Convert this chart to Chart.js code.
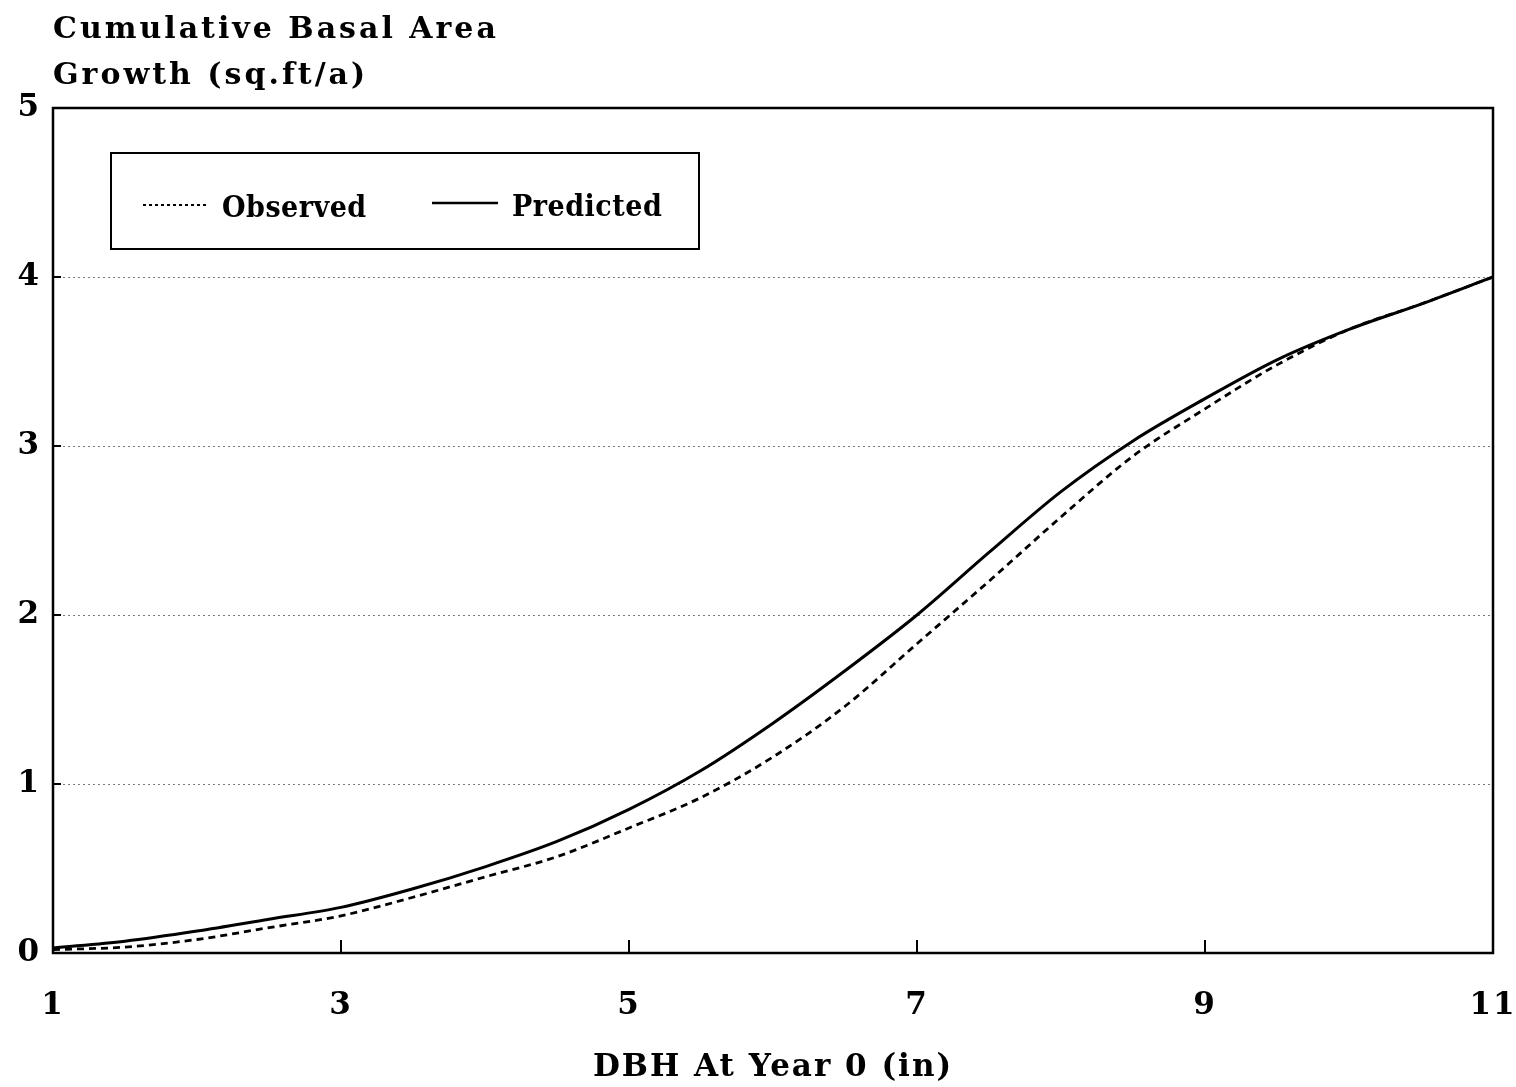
<!DOCTYPE html>
<html>
<head>
<meta charset="utf-8">
<script src="https://cdn.jsdelivr.net/npm/chart.js@4"></script>
<style>
html,body{margin:0;padding:0;background:#fff;}
#wrap{width:1516px;height:1087px;position:relative;}
</style>
</head>
<body>
<div id="wrap"><canvas id="c" width="1516" height="1087"></canvas></div>
<script>
const dbh = [1, 1.5, 2, 2.5, 3, 3.5, 4, 4.5, 5, 5.5, 6, 6.5, 7, 7.5, 8, 8.5, 9, 9.5, 10, 10.5, 11];
const observed = [0.02, 0.035, 0.08, 0.15, 0.22, 0.33, 0.45, 0.57, 0.74, 0.92, 1.16, 1.46, 1.83, 2.20, 2.58, 2.94, 3.22, 3.48, 3.69, 3.84, 4.00];
const predicted = [0.03, 0.07, 0.13, 0.20, 0.27, 0.38, 0.51, 0.66, 0.85, 1.08, 1.36, 1.67, 2.00, 2.37, 2.73, 3.03, 3.28, 3.51, 3.69, 3.84, 4.00];
const xTicks = [1, 3, 5, 7, 9, 11];
const yTicks = [0, 1, 2, 3, 4, 5];
const titleLines = ['Cumulative Basal Area', 'Growth (sq.ft/a)'];
const xTitle = 'DBH At Year 0 (in)';
const seriesNames = ['Observed', 'Predicted'];

const SERIF = '"DejaVu Serif", "Liberation Serif", serif';
const LEG = '"DejaVu Serif Condensed", "DejaVu Serif", serif';

const spacing = {
  id: 'spacing',
  beforeDraw(chart) { chart.ctx.letterSpacing = '2px'; }
};

const decor = {
  id: 'decor',
  afterDraw(chart) {
    const ctx = chart.ctx, a = chart.chartArea;
    const xs = chart.scales.x, ys = chart.scales.y;
    ctx.save();
    ctx.strokeStyle = '#000';
    ctx.lineWidth = 2.5;
    ctx.strokeRect(a.left, a.top, a.right - a.left, a.bottom - a.top);
    ctx.lineWidth = 2;
    xTicks.forEach(v => {
      if (v === xTicks[0] || v === xTicks[xTicks.length - 1]) return;
      const px = xs.getPixelForValue(v);
      ctx.beginPath(); ctx.moveTo(px, a.bottom); ctx.lineTo(px, a.bottom - 13); ctx.stroke();
    });
    yTicks.forEach(v => {
      if (v === yTicks[0] || v === yTicks[yTicks.length - 1]) return;
      const py = ys.getPixelForValue(v);
      ctx.beginPath(); ctx.moveTo(a.left, py); ctx.lineTo(a.left + 8, py); ctx.stroke();
    });
    // title
    ctx.fillStyle = '#000';
    ctx.letterSpacing = '3px';
    ctx.font = 'bold 30px ' + SERIF;
    ctx.textBaseline = 'alphabetic';
    ctx.textAlign = 'left';
    ctx.fillText(titleLines[0], 53, 38);
    ctx.fillText(titleLines[1], 53, 84);
    // legend
    const lx = 111, ly = 153, lw = 588, lh = 96;
    ctx.fillStyle = '#fff';
    ctx.fillRect(lx, ly, lw, lh);
    ctx.strokeStyle = '#000';
    ctx.lineWidth = 2;
    ctx.strokeRect(lx, ly, lw, lh);
    const ds = chart.data.datasets;
    ctx.lineWidth = 2;
    ctx.setLineDash([3, 3]);
    ctx.beginPath(); ctx.moveTo(143, 205); ctx.lineTo(206, 205); ctx.stroke();
    ctx.setLineDash([]);
    ctx.lineWidth = 2.5;
    ctx.beginPath(); ctx.moveTo(432, 203); ctx.lineTo(498, 203); ctx.stroke();
    ctx.fillStyle = '#000';
    ctx.letterSpacing = '0.5px';
    ctx.font = 'bold 30px ' + LEG;
    ctx.textBaseline = 'middle';
    ctx.fillText(ds[0].label, 222, 209);
    ctx.fillText(ds[1].label, 512, 208);
    ctx.restore();
  }
};

new Chart(document.getElementById('c'), {
  type: 'line',
  data: {
    datasets: [
      {
        label: seriesNames[0],
        data: dbh.map((x, i) => ({x, y: observed[i]})),
        borderColor: '#000',
        borderWidth: 2.8,
        borderDash: [7, 5],
        pointRadius: 0,
        cubicInterpolationMode: 'monotone',
        fill: false
      },
      {
        label: seriesNames[1],
        data: dbh.map((x, i) => ({x, y: predicted[i]})),
        borderColor: '#000',
        borderWidth: 3,
        pointRadius: 0,
        cubicInterpolationMode: 'monotone',
        fill: false
      }
    ]
  },
  options: {
    responsive: false,
    animation: false,
    events: [],
    layout: { padding: { top: 108, right: 23, left: 0, bottom: 0 } },
    plugins: { legend: { display: false }, tooltip: { enabled: false }, title: { display: false } },
    scales: {
      x: {
        type: 'linear',
        min: 1, max: 11,
        afterBuildTicks(s) { s.ticks = xTicks.map(v => ({value: v})); },
        afterFit(s) { s.height = 1087 - 953; s.paddingLeft = 0; s.paddingRight = 0; },
        grid: { display: false, drawTicks: false },
        border: { display: false },
        ticks: { color: '#000', font: { family: SERIF, size: 31, weight: 'bold' }, padding: 34, maxRotation: 0 },
        title: { display: true, text: xTitle, color: '#000', font: { family: SERIF, size: 31, weight: 'bold' }, padding: { top: 10, bottom: 0 } }
      },
      y: {
        type: 'linear',
        min: 0, max: 5,
        afterBuildTicks(s) { s.ticks = yTicks.map(v => ({value: v})); },
        afterFit(s) { s.width = 53; s.paddingTop = 0; s.paddingBottom = 0; },
        grid: {
          drawTicks: false,
          color: c => (c.tick && (c.tick.value === 0 || c.tick.value === 5)) ? 'rgba(0,0,0,0)' : '#7a7a7a',
          lineWidth: 1,
          borderDash: [2, 3]
        },
        border: { display: false, dash: [2, 3] },
        ticks: { color: '#000', font: { family: SERIF, size: 31, weight: 'bold' }, padding: 12 }
      }
    }
  },
  plugins: [spacing, decor]
});
</script>
</body>
</html>
